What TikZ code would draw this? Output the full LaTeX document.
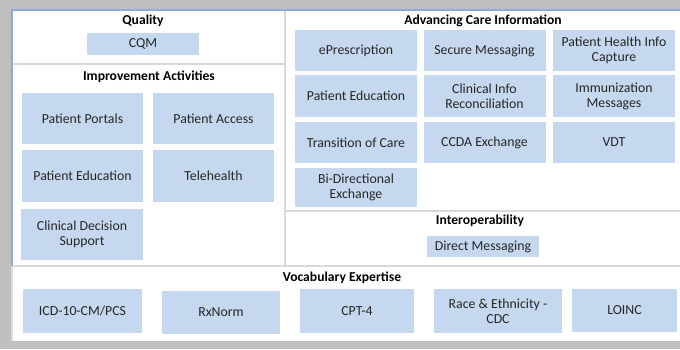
\documentclass[tikz,border=0pt]{standalone}
\usepackage{fontspec}
\setmainfont{Carlito}
\definecolor{boxblue}{RGB}{198,216,240}
\definecolor{frame}{RGB}{191,191,191}
\definecolor{divider}{RGB}{217,217,217}
\definecolor{edgeblue}{RGB}{143,170,214}
\definecolor{txt}{RGB}{38,38,38}
\tikzset{
  item/.style={fill=boxblue, draw=none, align=center, inner sep=1pt,
    font=\fontsize{13.8}{15}\selectfont, text=txt},
  title/.style={font=\bfseries\fontsize{13.6}{15}\selectfont, text=black, inner sep=0pt},
  divline/.style={draw=divider, line width=2pt}
}
\begin{document}
\begin{tikzpicture}[x=1pt,y=-1pt]
\fill[frame] (0,0) rectangle (680,349);
\useasboundingbox (0,0) rectangle (680,349);
\fill[white] (12,10) rectangle (680,341);
% divider lines
\coordinate (vtop) at (285,10);
\coordinate (vbot) at (285,266);
\coordinate (ql) at (12,64);
\coordinate (qr) at (285,64);
\coordinate (al) at (285,211);
\coordinate (ar) at (680,211);
\coordinate (bl) at (12,266);
\coordinate (br) at (680,266);
\draw[divline] (vtop) -- (vbot);
\draw[divline] (ql) -- (qr);
\draw[divline] (al) -- (ar);
\draw[divline] (bl) -- (br);
\coordinate (tl) at (12,10);
\coordinate (tr) at (680,10);
\coordinate (lb) at (12,266);
\coordinate (lbb) at (12,341);
\draw[edgeblue, line width=1.3pt] (tr) -- (tl) -- (lb);
\draw[divider, line width=1.3pt] (lb) -- (lbb);
% titles
\node[title] (tq) at (143,21) {Quality};
\node[title] (tia) at (149,77) {Improvement Activities};
\node[title] (taci) at (483,21) {Advancing Care Information};
\node[title] (tio) at (480,221) {Interoperability};
\node[title] (tve) at (342,278) {Vocabulary Expertise};
% Quality
\node[item, minimum width=112pt, minimum height=22pt] (cqm) at (143,44) {CQM};
% Improvement Activities
\node[item, minimum width=121pt, minimum height=51pt] (pp) at (82.5,118.5) {Patient Portals};
\node[item, minimum width=121pt, minimum height=51pt] (pa) at (213.5,118.5) {Patient Access};
\node[item, minimum width=121pt, minimum height=52pt] (pe) at (82.5,176) {Patient Education};
\node[item, minimum width=121pt, minimum height=52pt] (th) at (213.5,176) {Telehealth};
\node[item, minimum width=122pt, minimum height=51pt] (cds) at (82,234.5) {Clinical Decision\\Support};
% Advancing Care Information
\node[item, minimum width=122pt, minimum height=41pt] (ep) at (356,50.5) {ePrescription};
\node[item, minimum width=122pt, minimum height=41pt] (sm) at (484.5,50.5) {Secure Messaging};
\node[item, minimum width=122pt, minimum height=41pt] (phi) at (614,50.5) {Patient Health Info\\Capture};
\node[item, minimum width=122pt, minimum height=42pt] (ape) at (356,96) {Patient Education};
\node[item, minimum width=122pt, minimum height=42pt] (cir) at (484.5,96) {Clinical Info\\Reconciliation};
\node[item, minimum width=122pt, minimum height=42pt] (imm) at (614,96) {Immunization\\Messages};
\node[item, minimum width=122pt, minimum height=41pt] (toc) at (356,142.5) {Transition of Care};
\node[item, minimum width=122pt, minimum height=41pt] (ccda) at (484.5,142.5) {CCDA Exchange};
\node[item, minimum width=122pt, minimum height=41pt] (vdt) at (614,142) {VDT};
\node[item, minimum width=122pt, minimum height=39pt] (bde) at (356,187.5) {Bi-Directional\\Exchange};
% Interoperability
\node[item, minimum width=112pt, minimum height=21pt] (dm) at (483,246.5) {Direct Messaging};
% Vocabulary Expertise
\node[item, minimum width=119pt, minimum height=44pt] (icd) at (82.5,311) {ICD-10-CM/PCS};
\node[item, minimum width=118pt, minimum height=43pt] (rx) at (221,312.5) {RxNorm};
\node[item, minimum width=114pt, minimum height=44pt] (cpt) at (357,311) {CPT-4};
\node[item, minimum width=128pt, minimum height=44pt] (race) at (498,311) {Race \& Ethnicity -\\CDC};
\node[item, minimum width=105pt, minimum height=43pt] (loinc) at (624.5,310.5) {LOINC};
\end{tikzpicture}
\end{document}
